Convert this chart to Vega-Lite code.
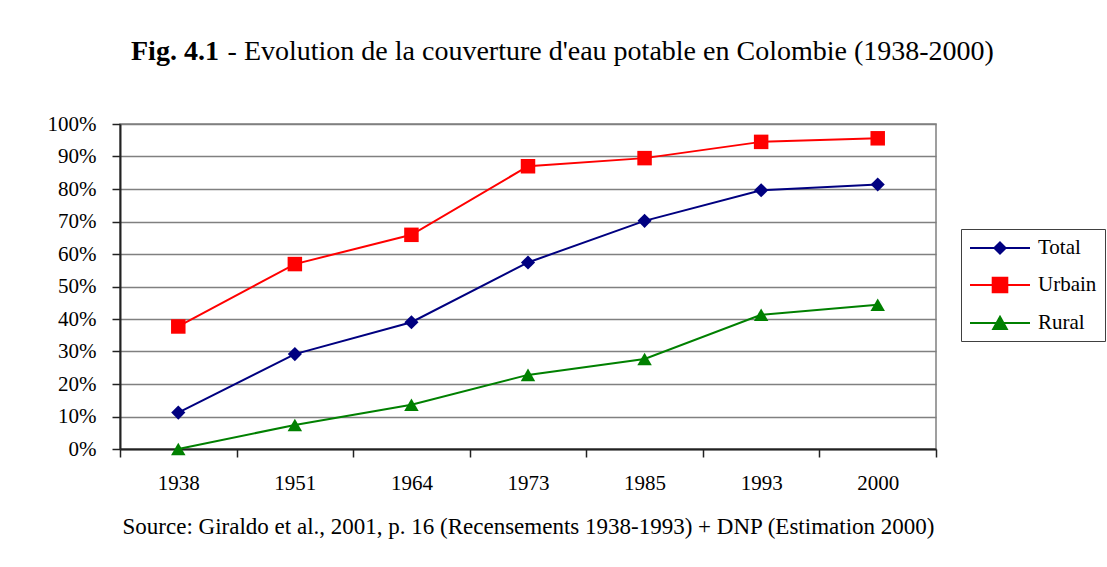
{
  "$schema": "https://vega.github.io/schema/vega-lite/v6.json",
  "width": 816,
  "height": 325,
  "autosize": {"type": "none"},
  "padding": {"left": 120, "top": 124, "right": 171, "bottom": 118},
  "background": "white",
  "title": {
    "text": "Fig. 4.1",
    "subtitle": "\u200b\u00a0\u00a0\u00a0\u00a0\u00a0\u00a0\u00a0\u00a0\u00a0\u00a0\u00a0\u00a0\u00a0\u2009- Evolution de la couverture d'eau potable en Colombie (1938-2000)",
    "anchor": "start",
    "frame": "group",
    "dx": 11,
    "font": "Liberation Serif",
    "fontSize": 28,
    "fontWeight": "bold",
    "color": "black",
    "subtitleFont": "Liberation Serif",
    "subtitleFontSize": 28,
    "subtitleFontWeight": "normal",
    "subtitleColor": "black",
    "subtitlePadding": -28,
    "offset": 47
  },
  "data": {
    "values": [
      {"year": "1938", "series": "Total", "value": 0.112},
      {"year": "1951", "series": "Total", "value": 0.292},
      {"year": "1964", "series": "Total", "value": 0.39},
      {"year": "1973", "series": "Total", "value": 0.574},
      {"year": "1985", "series": "Total", "value": 0.702},
      {"year": "1993", "series": "Total", "value": 0.796},
      {"year": "2000", "series": "Total", "value": 0.814},
      {"year": "1938", "series": "Urbain", "value": 0.377},
      {"year": "1951", "series": "Urbain", "value": 0.569},
      {"year": "1964", "series": "Urbain", "value": 0.659},
      {"year": "1973", "series": "Urbain", "value": 0.87},
      {"year": "1985", "series": "Urbain", "value": 0.895},
      {"year": "1993", "series": "Urbain", "value": 0.945},
      {"year": "2000", "series": "Urbain", "value": 0.956},
      {"year": "1938", "series": "Rural", "value": 0.0},
      {"year": "1951", "series": "Rural", "value": 0.074},
      {"year": "1964", "series": "Rural", "value": 0.136},
      {"year": "1973", "series": "Rural", "value": 0.228},
      {"year": "1985", "series": "Rural", "value": 0.277},
      {"year": "1993", "series": "Rural", "value": 0.413},
      {"year": "2000", "series": "Rural", "value": 0.444}
    ]
  },
  "encoding": {
    "x": {
      "field": "year",
      "type": "ordinal",
      "bandPosition": 0.5,
      "scale": {"type": "band", "paddingInner": 0, "paddingOuter": 0},
      "axis": {
        "title": "Source: Giraldo et al., 2001, p. 16 (Recensements 1938-1993) + DNP (Estimation 2000)",
        "tickBand": "extent",
        "labelAngle": 0,
        "grid": false,
        "labelPadding": 15,
        "titlePadding": 22,
        "titleFontSize": 23
      }
    },
    "y": {
      "field": "value",
      "type": "quantitative",
      "scale": {"domain": [0, 1], "nice": false},
      "axis": {
        "title": null,
        "format": ".0%",
        "values": [0, 0.1, 0.2, 0.3, 0.4, 0.5, 0.6, 0.7, 0.8, 0.9, 1],
        "grid": true,
        "labelPadding": 16
      }
    },
    "color": {
      "field": "series",
      "type": "nominal",
      "scale": {"domain": ["Total", "Urbain", "Rural"], "range": ["#000080", "#FF0000", "#008000"]},
      "legend": {
        "orient": "none",
        "legendX": 841,
        "legendY": 105,
        "title": null,
        "symbolSize": 400,
        "symbolStrokeWidth": 2,
        "labelFont": "Liberation Serif",
        "labelFontSize": 21,
        "labelColor": "black",
        "labelOffset": 47,
        "strokeColor": "#404040",
        "padding": 8,
        "rowPadding": 15,
        "encode": {
          "symbols": {
            "update": {
              "shape": {"signal": "datum.value === 'Total' ? 'M-1,0H5M2,-0.56L2.56,0L2,0.56L1.44,0Z' : datum.value === 'Urbain' ? 'M-1,0H5M1.27,-0.73H2.73V0.73H1.27Z' : 'M-1,0H5M2,-0.62L2.68,0.6L1.32,0.6Z'"},
              "fill": {"scale": "color", "field": "value"},
              "stroke": {"scale": "color", "field": "value"},
              "strokeWidth": {"value": 2},
              "opacity": {"value": 1},
              "fillOpacity": {"value": 1}
            }
          }
        }
      }
    }
  },
  "layer": [
    {"mark": {"type": "line", "strokeWidth": 2}},
    {
      "transform": [{"filter": "datum.series === 'Total'"}],
      "mark": {"type": "point", "filled": true, "opacity": 1, "size": 200, "shape": "diamond"}
    },
    {
      "transform": [{"filter": "datum.series === 'Urbain'"}],
      "mark": {"type": "point", "filled": true, "opacity": 1, "size": 210, "shape": "square"}
    },
    {
      "transform": [{"filter": "datum.series === 'Rural'"}],
      "mark": {"type": "point", "filled": true, "opacity": 1, "size": 210, "shape": "triangle-up"}
    }
  ],
  "config": {
    "font": "Liberation Serif",
    "view": {"stroke": "#808080", "strokeWidth": 1.5},
    "axis": {
      "labelFont": "Liberation Serif",
      "labelFontSize": 21,
      "labelColor": "black",
      "titleFont": "Liberation Serif",
      "titleFontSize": 21,
      "titleFontWeight": "normal",
      "titleColor": "black",
      "domainColor": "#222222",
      "domainWidth": 2,
      "tickColor": "#222222",
      "tickWidth": 1.5,
      "tickSize": 8,
      "gridColor": "#808080",
      "gridWidth": 1.5
    }
  }
}
